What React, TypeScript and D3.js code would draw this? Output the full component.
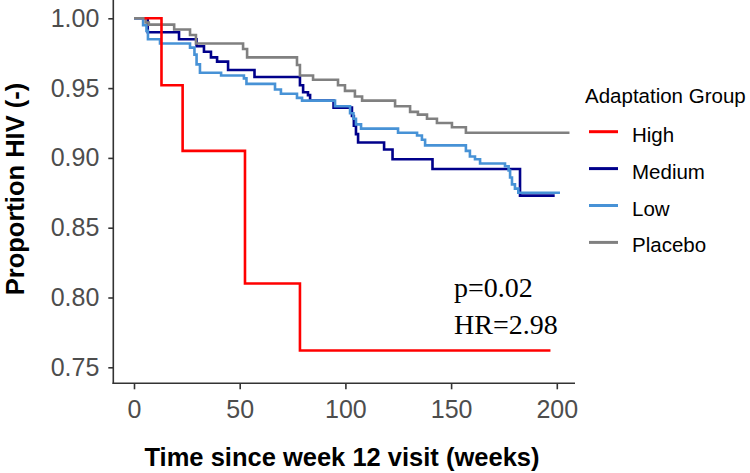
import * as d3 from 'd3';
import React, { useRef, useEffect } from 'react';

// survival curves (time in weeks, proportion HIV-free)
const highTimes = [5, 13, 23, 52.5, 78.5, 197];
const highSurv = [1, 0.952, 0.905, 0.81, 0.762, 0.762];

const mediumTimes = [0, 6.5, 21.3, 29.6, 33.1, 36.4, 39.3, 44.5, 57, 78.5, 80, 82.3, 83.3, 94.4, 103.1, 104, 105, 106, 118.3, 122.3, 141.2, 182.6, 199];
const mediumSurv = [1, 0.99, 0.985, 0.98, 0.976, 0.972, 0.969, 0.963, 0.958, 0.952, 0.947, 0.945, 0.941, 0.936, 0.93, 0.923, 0.917, 0.911, 0.906, 0.899, 0.892, 0.873, 0.873];

const lowTimes = [0, 4.3, 5.9, 6.6, 12.3, 26.5, 28.6, 29.6, 31.2, 41.2, 52, 53.2, 66.7, 69.5, 77.1, 79.5, 95.1, 102.2, 103.8, 105, 107.4, 124.9, 133.9, 136.2, 137.7, 157, 158.9, 161.3, 163.7, 175.5, 177.2, 177.9, 178.8, 180.2, 181.8, 201.5];
const lowSurv = [1, 0.995, 0.991, 0.985, 0.982, 0.979, 0.974, 0.967, 0.961, 0.959, 0.957, 0.953, 0.949, 0.946, 0.943, 0.941, 0.937, 0.932, 0.928, 0.924, 0.921, 0.918, 0.916, 0.913, 0.909, 0.905, 0.901, 0.899, 0.896, 0.894, 0.891, 0.886, 0.881, 0.878, 0.875, 0.875];

const placeboTimes = [0, 5.5, 7, 19, 26.5, 29.3, 51.6, 53.5, 77.1, 78.5, 84.7, 96.5, 99.8, 104.5, 107.9, 123.5, 130.6, 134.3, 138.6, 143.3, 150.4, 157, 206];
const placeboSurv = [1, 0.997, 0.9955, 0.992, 0.988, 0.982, 0.978, 0.972, 0.9665, 0.959, 0.956, 0.952, 0.948, 0.944, 0.941, 0.937, 0.933, 0.931, 0.928, 0.925, 0.922, 0.918, 0.918];

const groups = ['High', 'Medium', 'Low', 'Placebo'];
const xTicks = [0, 50, 100, 150, 200];
const yTicks = [0.75, 0.8, 0.85, 0.9, 0.95, 1.0];
const statLines = ['p=0.02', 'HR=2.98'];

const colors = { High: '#FF0000', Medium: '#00008B', Low: '#4792D6', Placebo: '#808080' };

export default function App() {
  const ref = useRef(null);

  useEffect(() => {
    const svg = d3.select(ref.current);
    svg.selectAll('*').remove();

    const x = d3.scaleLinear().domain([0, 200]).range([134, 556.8]);
    const y = d3.scaleLinear().domain([0.75, 1.0]).range([367.3, 18.3]);
    const axisY = 383.3;
    const axisX = 113.3;
    const axisColor = '#333333';
    const font = 'Liberation Sans, Arial, sans-serif';

    // axes
    const xAxis = d3.axisBottom(x).tickValues(xTicks).tickSize(6).tickPadding(11).tickFormat(d3.format('d'));
    const gx = svg.append('g').attr('transform', `translate(0,${axisY})`).call(xAxis);
    gx.select('.domain').remove();
    gx.selectAll('line').attr('stroke', axisColor).attr('stroke-width', 1.6);
    gx.selectAll('text').attr('fill', '#4D4D4D').style('font-size', '25px').style('font-family', font);

    const yAxis = d3.axisLeft(y).tickValues(yTicks).tickSize(5).tickPadding(9).tickFormat(d3.format('.2f'));
    const gy = svg.append('g').attr('transform', `translate(${axisX},0)`).call(yAxis);
    gy.select('.domain').remove();
    gy.selectAll('line').attr('stroke', axisColor).attr('stroke-width', 1.6);
    gy.selectAll('text').attr('fill', '#4D4D4D').style('font-size', '25px').style('font-family', font);

    svg.append('line').attr('x1', axisX).attr('x2', axisX).attr('y1', 0).attr('y2', axisY + 0.8)
      .attr('stroke', axisColor).attr('stroke-width', 1.6);
    svg.append('line').attr('x1', axisX - 0.8).attr('x2', 575).attr('y1', axisY).attr('y2', axisY)
      .attr('stroke', axisColor).attr('stroke-width', 1.6);

    // curves
    const series = {
      Medium: d3.zip(mediumTimes, mediumSurv),
      Low: d3.zip(lowTimes, lowSurv),
      Placebo: d3.zip(placeboTimes, placeboSurv),
      High: d3.zip(highTimes, highSurv),
    };
    const line = d3.line().x(d => x(d[0])).y(d => y(d[1])).curve(d3.curveStepAfter);
    Object.keys(series).forEach(k => {
      svg.append('path').attr('d', line(series[k])).attr('fill', 'none')
        .attr('stroke', colors[k]).attr('stroke-width', 2.6);
    });

    // axis titles
    svg.append('text').attr('x', 342).attr('y', 466).attr('text-anchor', 'middle')
      .style('font-family', font).style('font-weight', 'bold').style('font-size', '25.5px')
      .attr('fill', '#000').text('Time since week 12 visit (weeks)');
    svg.append('text').attr('transform', 'translate(24,189) rotate(-90)').attr('text-anchor', 'middle')
      .style('font-family', font).style('font-weight', 'bold').style('font-size', '25.5px')
      .attr('fill', '#000').text('Proportion HIV (-)');

    // legend
    svg.append('text').attr('x', 585).attr('y', 103.3).style('font-family', font).style('font-size', '20.5px')
      .attr('fill', '#000').text('Adaptation Group');
    groups.forEach((g, i) => {
      const ky = 131.7 + i * 36.9;
      svg.append('line').attr('x1', 589).attr('x2', 618).attr('y1', ky).attr('y2', ky)
        .attr('stroke', colors[g]).attr('stroke-width', 3);
      svg.append('text').attr('x', 632).attr('y', ky + 10).style('font-family', font).style('font-size', '20.5px')
        .attr('fill', '#000').text(g);
    });

    // test statistics
    statLines.forEach((s, i) => {
      svg.append('text').attr('x', 454).attr('y', 297 + i * 36.5)
        .style('font-family', 'Liberation Serif, Times New Roman, serif').style('font-size', '28px')
        .attr('fill', '#000').text(s);
    });
  }, []);

  return (
    <div style={{ position: 'fixed', left: 0, top: 0, background: '#fff' }}>
      <svg ref={ref} width={750} height={473} />
    </div>
  );
}
